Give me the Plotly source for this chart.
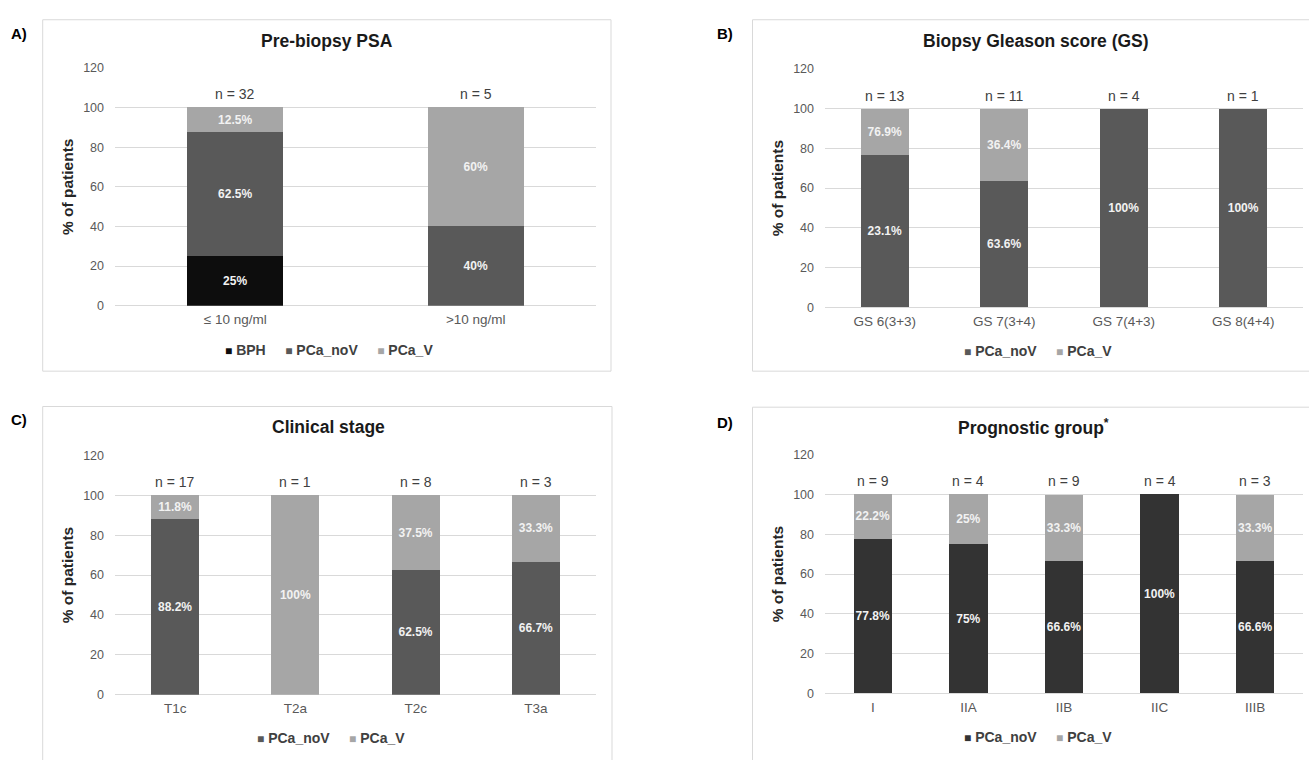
import plotly.graph_objects as go

# ---------------- data ----------------
psa_categories = ["≤ 10 ng/ml", ">10 ng/ml"]
psa_bph = [25, 0]
psa_noV = [62.5, 40]
psa_V = [12.5, 60]
psa_n = [32, 5]

gs_categories = ["GS 6(3+3)", "GS 7(3+4)", "GS 7(4+3)", "GS 8(4+4)"]
gs_noV = [76.9, 63.6, 100, 100]
gs_V = [23.1, 36.4, 0, 0]
gs_noV_labels = ["23.1%", "63.6%", "100%", "100%"]
gs_V_labels = ["76.9%", "36.4%", "", ""]
gs_n = [13, 11, 4, 1]

stage_categories = ["T1c", "T2a", "T2c", "T3a"]
stage_noV = [88.2, 0, 62.5, 66.7]
stage_V = [11.8, 100, 37.5, 33.3]
stage_n = [17, 1, 8, 3]

prog_categories = ["I", "IIA", "IIB", "IIC", "IIIB"]
prog_noV = [77.8, 75, 66.6, 100, 66.6]
prog_V = [22.2, 25, 33.3, 0, 33.3]
prog_n = [9, 4, 9, 4, 3]

# ---------------- style ----------------
W, H = 1309, 760
FONT = "Liberation Sans, Arial, sans-serif"
C_BPH = "#0d0d0d"
C_NOV = "#595959"
C_NOV_D = "#333333"
C_V = "#a6a6a6"
GRID = "#d9d9d9"


def px(x):
    return x / W


def py(y):
    return 1 - y / H


def pct(vals):
    return [f"{v:g}%" if v > 0 else "" for v in vals]


fig = go.Figure()


def bar(cats, vals, color, name, text, ax):
    fig.add_trace(go.Bar(
        x=cats, y=vals, name=name, marker=dict(color=color, line=dict(width=0)),
        text=text, texttemplate="%{text}",
        textposition=["inside" if (v > 0 and t) else "none" for v, t in zip(vals, text)],
        insidetextanchor="middle", textangle=0, constraintext="none",
        textfont=dict(family=FONT, size=12, color="#f2f2f2", weight="bold"),
        xaxis="x" + ax, yaxis="y" + ax, showlegend=False, hoverinfo="x+y+name",
    ))


bar(psa_categories, psa_bph, C_BPH, "BPH", pct(psa_bph), "")
bar(psa_categories, psa_noV, C_NOV, "PCa_noV", pct(psa_noV), "")
bar(psa_categories, psa_V, C_V, "PCa_V", pct(psa_V), "")

bar(gs_categories, gs_noV, C_NOV, "PCa_noV", gs_noV_labels, "2")
bar(gs_categories, gs_V, C_V, "PCa_V", gs_V_labels, "2")

bar(stage_categories, stage_noV, C_NOV, "PCa_noV", pct(stage_noV), "3")
bar(stage_categories, stage_V, C_V, "PCa_V", pct(stage_V), "3")

bar(prog_categories, prog_noV, C_NOV_D, "PCa_noV", pct(prog_noV), "4")
bar(prog_categories, prog_V, C_V, "PCa_V", pct(prog_V), "4")

# plot areas (pixel boxes: left, right, top(120), bottom(0))
boxes = {
    "": (115, 596, 62, 304.3),
    "2": (825, 1303, 63, 306),
    "3": (115, 596, 456.7, 700.7),
    "4": (825, 1303, 456, 699.3),
}

layout = dict(
    width=W, height=H, margin=dict(l=0, r=0, t=0, b=0),
    paper_bgcolor="white", plot_bgcolor="white",
    barmode="stack", bargap=0.6,
    font=dict(family=FONT, color="#595959"),
)
for ax, (l, r, t, b) in boxes.items():
    layout["xaxis" + ax] = dict(
        domain=[px(l), px(r)], anchor="y" + ax, type="category",
        showgrid=False, zeroline=False, showline=False, ticks="",
        tickfont=dict(family=FONT, size=13.5, color="#595959"),
        ticklabelstandoff=4, fixedrange=True,
    )
    layout["yaxis" + ax] = dict(
        domain=[py(b), py(t)], anchor="x" + ax, range=[0, 120], dtick=20,
        showgrid=True, gridcolor=GRID, gridwidth=1,
        zeroline=True, zerolinecolor=GRID, zerolinewidth=1,
        showline=False, ticks="", ticklabelstandoff=10,
        tickfont=dict(family=FONT, size=12.5, color="#595959"),
        title=dict(text="% of patients", standoff=5,
                   font=dict(family=FONT, size=15.5, color="#262626", weight="bold")),
        fixedrange=True,
    )
fig.update_layout(**layout)

annotations = []
shapes = []

# n labels
for ax, cats, ns in [("", psa_categories, psa_n), ("2", gs_categories, gs_n),
                     ("3", stage_categories, stage_n), ("4", prog_categories, prog_n)]:
    for c, n in zip(cats, ns):
        annotations.append(dict(
            x=c, y=100, xref="x" + ax, yref="y" + ax, text=f"n = {n}",
            showarrow=False, yanchor="bottom", yshift=3,
            font=dict(family=FONT, size=14, color="#404040"),
        ))

# panel frames, titles, letters, legends
panels = [
    ((42.7, 13, 611, 371), "Pre-biopsy PSA", (327, 35), "A)", (19, 27),
     [(C_BPH, "BPH"), (C_NOV, "PCa_noV"), (C_V, "PCa_V")], (329, 349)),
    ((752.5, 13, 1330, 371), "Biopsy Gleason score (GS)", (1035.5, 35), "B)", (725, 27),
     [(C_NOV, "PCa_noV"), (C_V, "PCa_V")], (1038, 350)),
    ((42.7, 407, 612, 780), "Clinical stage", (328, 428), "C)", (19, 420),
     [(C_NOV, "PCa_noV"), (C_V, "PCa_V")], (330.5, 745)),
    ((752.5, 407.7, 1330, 780), "Prognostic group<sup>*</sup>", (1033, 428), "D)", (725, 423),
     [(C_NOV_D, "PCa_noV"), (C_V, "PCa_V")], (1038, 744)),
]
for (fl, ft, fr, fb), title, (tx, ty), letter, (lx, ly), items, (gx, gy) in panels:
    shapes.append(dict(type="rect", xref="paper", yref="paper",
                       x0=px(fl), x1=px(fr), y0=py(fb), y1=py(ft),
                       line=dict(color=GRID, width=1), fillcolor="rgba(0,0,0,0)",
                       layer="below"))
    annotations.append(dict(x=px(tx), y=py(ty), xref="paper", yref="paper",
                            text=f"<b>{title}</b>", showarrow=False,
                            xanchor="center", yanchor="middle",
                            font=dict(family=FONT, size=17.5, color="#1a1a1a")))
    annotations.append(dict(x=px(lx), y=py(ly), xref="paper", yref="paper",
                            text=f"<b>{letter}</b>", showarrow=False,
                            xanchor="center", yanchor="middle",
                            font=dict(family=FONT, size=15, color="#000000")))
    gap = "&nbsp;" * 5
    parts = [f"<span style='color:{col};font-size:12px'>■</span>&nbsp;<b>{lab}</b>"
             for col, lab in items]
    annotations.append(dict(x=px(gx), y=py(gy), xref="paper", yref="paper",
                            text=gap.join(parts), showarrow=False,
                            xanchor="center", yanchor="middle",
                            font=dict(family=FONT, size=14, color="#404040")))

fig.update_layout(annotations=annotations, shapes=shapes)
fig.write_html("out.html", config={"displayModeBar": False})
